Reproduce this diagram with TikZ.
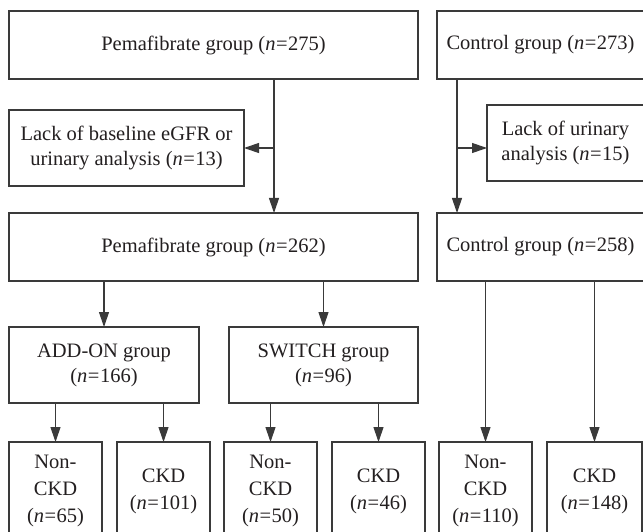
\documentclass[tikz,border=0pt]{standalone}
\usepackage{fontspec}
\setmainfont{Liberation Serif}
\usetikzlibrary{arrows.meta}
\definecolor{boxline}{HTML}{3A3A3A}
\definecolor{conline}{HTML}{3A3A3A}
\definecolor{txt}{HTML}{231F20}
\newcommand{\nn}[1]{(\textit{n}\kern0.5pt=\kern0.5pt#1)}
\begin{document}
\begin{tikzpicture}[x=1pt,y=-1pt,
  box/.style={draw=boxline, line width=1.2pt, rectangle, anchor=north west,
    inner sep=0pt, outer sep=0pt, align=center, text=txt,
    font=\fontsize{20.5}{25}\selectfont},
  bbox/.style={box, minimum height=98pt, font=\fontsize{20.5}{27}\selectfont},
  conn/.style={draw=conline, line width=1.1pt},
  arr/.style={conn, -{Triangle[length=15pt,width=10pt]}}]
\useasboundingbox (0,0) rectangle (643,532);
\clip (0,0) rectangle (643,532);
\fill[white] (0,0) rectangle (643,532);

% top row
\node[box, minimum width=409pt, minimum height=68pt] (p1) at (9,11) {Pemafibrate group \nn{275}};
\node[box, minimum width=207pt, minimum height=68pt] (c1) at (437,11) {Control group \nn{273}};

% exclusions
\node[box, minimum width=235pt, minimum height=76pt] (l1) at (9,110) {Lack of baseline eGFR or\\urinary analysis \nn{13}};
\node[box, minimum width=157pt, minimum height=76pt] (l2) at (487,105) {Lack of urinary\\analysis \nn{15}};

% second row
\node[box, minimum width=409pt, minimum height=68pt] (p2) at (9,213) {Pemafibrate group \nn{262}};
\node[box, minimum width=207pt, minimum height=68pt] (c2) at (437,213) {Control group \nn{258}};

% subgroups
\node[box, minimum width=190pt, minimum height=76pt] (a1) at (9,327) {ADD-ON group\\\nn{166}};
\node[box, minimum width=189pt, minimum height=76pt] (s1) at (229,327) {SWITCH group\\\nn{96}};

% bottom row
\node[bbox, minimum width=93pt] (b1) at (9,442) {Non-\\CKD\\\nn{65}};
\node[bbox, minimum width=93pt] (b2) at (117,442) {CKD\\\nn{101}};
\node[bbox, minimum width=93pt] (b3) at (224,442) {Non-\\CKD\\\nn{50}};
\node[bbox, minimum width=93pt] (b4) at (332,442) {CKD\\\nn{46}};
\node[bbox, minimum width=93pt] (b5) at (439,442) {Non-\\CKD\\\nn{110}};
\node[bbox, minimum width=95pt] (b6) at (547,442) {CKD\\\nn{148}};

% connectors
\coordinate (j1) at (274,148);
\draw[conn] (p1.south -| j1) -- (j1);
\draw[arr] (j1) -- (p2.north -| j1);
\draw[arr] (j1) -- (l1.east |- j1);

\coordinate (j2) at (457,148);
\draw[conn] (c1.south -| j2) -- (j2);
\draw[arr] (j2) -- (c2.north -| j2);
\draw[arr] (j2) -- (l2.west |- j2);

\draw[arr] (p2.south -| a1.north) -- (a1.north);
\draw[arr] (p2.south -| s1.north) -- (s1.north);
\draw[arr] (a1.south -| b1.north) -- (b1.north);
\draw[arr] (a1.south -| b2.north) -- (b2.north);
\draw[arr] (s1.south -| b3.north) -- (b3.north);
\draw[arr] (s1.south -| b4.north) -- (b4.north);
\draw[arr] (c2.south -| b5.north) -- (b5.north);
\draw[arr] (c2.south -| b6.north) -- (b6.north);
\end{tikzpicture}
\end{document}
